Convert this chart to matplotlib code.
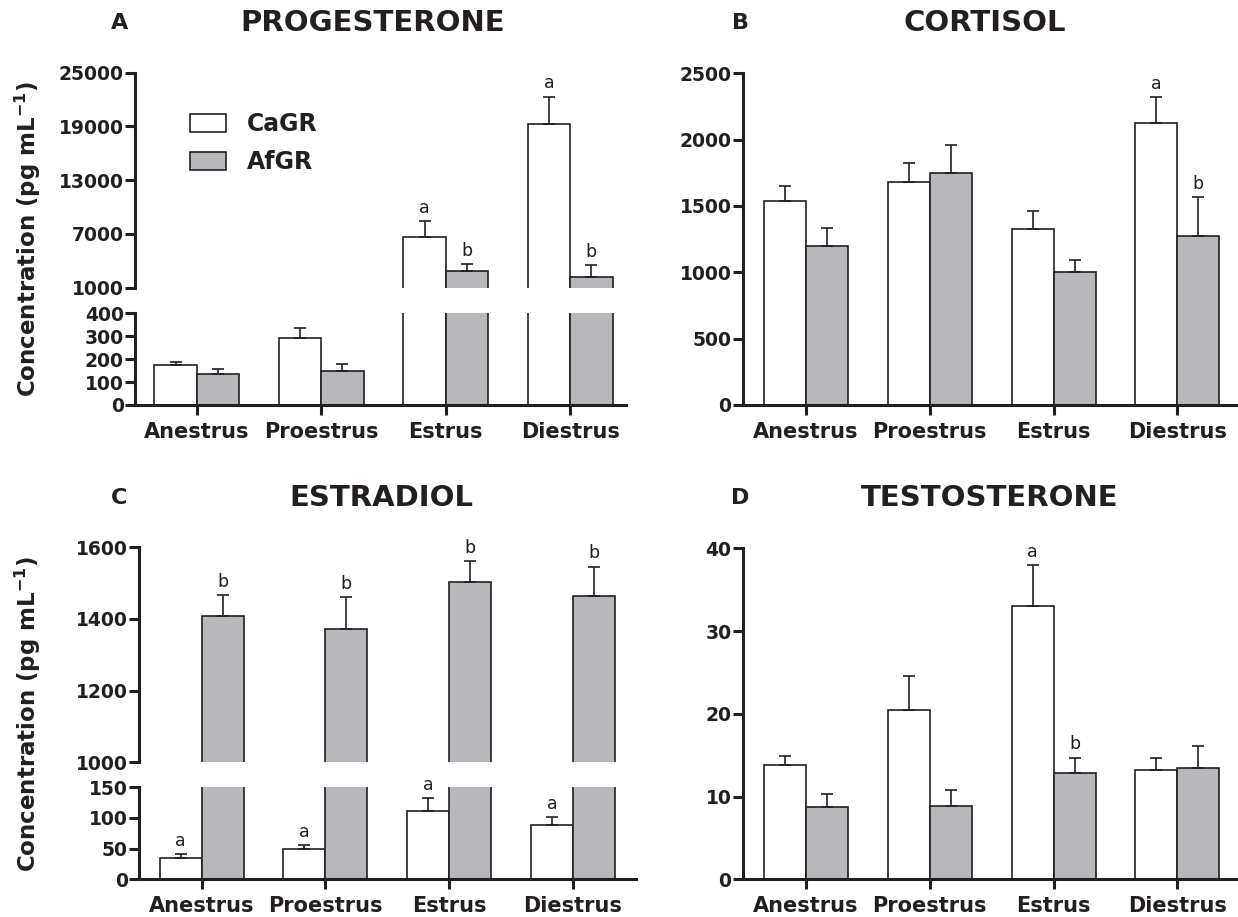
import matplotlib

matplotlib.use("Agg")
import matplotlib.pyplot as plt
import numpy as np

# --- Data -------------------------------------------------------------------
phases = ["Anestrus", "Proestrus", "Estrus", "Diestrus"]
groups = ["CaGR", "AfGR"]

prog_ca = [173, 291, 6660, 19260]
prog_ca_err = [16, 46, 1760, 3080]
prog_af = [135, 150, 2875, 2200]
prog_af_err = [22, 27, 750, 1310]

cort_ca = [1537, 1680, 1330, 2125]
cort_ca_err = [113, 145, 135, 193]
cort_af = [1200, 1745, 1000, 1270]
cort_af_err = [135, 215, 90, 295]

estr_ca = [35, 50, 111, 88]
estr_ca_err = [6, 6, 21, 13]
estr_af = [1407, 1373, 1504, 1464]
estr_af_err = [60, 88, 58, 82]

test_ca = [13.8, 20.4, 33.0, 13.2]
test_ca_err = [1.1, 4.2, 5.0, 1.4]
test_af = [8.7, 8.9, 12.8, 13.4]
test_af_err = [1.6, 1.9, 1.9, 2.7]

# significance letters: (phase index, group index, letter)
prog_letters = [(2, 0, "a"), (2, 1, "b"), (3, 0, "a"), (3, 1, "b")]
cort_letters = [(3, 0, "a"), (3, 1, "b")]
estr_letters = [(i, 0, "a") for i in range(4)] + [(i, 1, "b") for i in range(4)]
test_letters = [(2, 0, "a"), (2, 1, "b")]

# --- Style -------------------------------------------------------------------
INK = "#231f20"
GREY = "#b7b7bc"
BAR_W = 0.34
plt.rcParams["font.family"] = ["DejaVu Sans"]
plt.rcParams["mathtext.default"] = "bf"
plt.rcParams["text.color"] = INK

W, H = 1238, 917
fig = plt.figure(figsize=(W / 100, H / 100), dpi=100)


def px_axes(left, right, top, bottom):
    return fig.add_axes([left / W, 1 - bottom / H, (right - left) / W, (bottom - top) / H])


def style_axis(ax, xlim, ylim, yticks, show_x):
    ax.set_xlim(*xlim)
    ax.set_ylim(*ylim)
    ax.set_yticks(yticks)
    ax.set_yticklabels([f"{t:g}" for t in yticks], fontsize=13.5, fontweight="bold")
    for s in ("top", "right"):
        ax.spines[s].set_visible(False)
    for s in ("left", "bottom"):
        ax.spines[s].set_linewidth(2.2)
        ax.spines[s].set_color(INK)
    ax.tick_params(axis="y", length=7, width=2.2, pad=1, colors=INK)
    if show_x:
        ax.set_xticks(range(len(phases)))
        ax.set_xticklabels(phases, fontsize=15, fontweight="bold")
        ax.tick_params(axis="x", length=7, width=2.2, pad=5, colors=INK)
    else:
        ax.spines["bottom"].set_visible(False)
        ax.set_xticks([])


def draw_bars(ax, ca, ca_err, af, af_err):
    x = np.arange(len(phases))
    err_kw = {"ecolor": INK, "elinewidth": 1.2, "capthick": 1.2, "capsize": 4.5}
    b1 = ax.bar(x - BAR_W / 2, ca, BAR_W, color="white", edgecolor=INK, linewidth=1.2,
                yerr=[np.zeros(len(ca)), ca_err], error_kw=err_kw, label=groups[0])
    b2 = ax.bar(x + BAR_W / 2, af, BAR_W, color=GREY, edgecolor=INK, linewidth=1.2,
                yerr=[np.zeros(len(af)), af_err], error_kw=err_kw, label=groups[1])
    return b1, b2


def add_letters(ax, letters, ca, ca_err, af, af_err, only=None):
    for i, g, txt in letters:
        if only is not None and g != only:
            continue
        top = (ca[i] + ca_err[i]) if g == 0 else (af[i] + af_err[i])
        xpos = i - BAR_W / 2 if g == 0 else i + BAR_W / 2
        ax.annotate(txt, (xpos, top), xytext=(0, 3), textcoords="offset points",
                    ha="center", va="bottom", fontsize=12.5)


# --- Panel A: progesterone (broken axis) --------------------------------------
xlim_a = (-0.496, 3.448)
a_up = px_axes(135, 626, 72.7, 287.7)
a_lo = px_axes(135, 626, 313.3, 405)
draw_bars(a_lo, prog_ca, prog_ca_err, prog_af, prog_af_err)
b1, b2 = draw_bars(a_up, prog_ca, prog_ca_err, prog_af, prog_af_err)
style_axis(a_up, xlim_a, (1000, 25000), [1000, 7000, 13000, 19000, 25000], False)
style_axis(a_lo, xlim_a, (0, 400), [0, 100, 200, 300, 400], True)
add_letters(a_up, prog_letters, prog_ca, prog_ca_err, prog_af, prog_af_err)
leg = a_up.legend(handles=[b1, b2], loc="center left", bbox_to_anchor=(0.113, 0.672),
                  frameon=False, prop={"size": 17, "weight": "bold"},
                  handlelength=1.5, handleheight=0.8, handletextpad=0.9,
                  labelspacing=0.6, borderpad=0, borderaxespad=0)

# --- Panel B: cortisol ---------------------------------------------------------
xlim_b = (-0.512, 3.49)
b_ax = px_axes(742.7, 1238, 73.3, 405)
draw_bars(b_ax, cort_ca, cort_ca_err, cort_af, cort_af_err)
style_axis(b_ax, xlim_b, (0, 2500), [0, 500, 1000, 1500, 2000, 2500], True)
add_letters(b_ax, cort_letters, cort_ca, cort_ca_err, cort_af, cort_af_err)

# --- Panel C: estradiol (broken axis) -----------------------------------------
xlim_c = (-0.506, 3.51)
c_up = px_axes(139, 636, 547.3, 762.3)
c_lo = px_axes(139, 636, 787.3, 879.3)
draw_bars(c_up, estr_ca, estr_ca_err, estr_af, estr_af_err)
draw_bars(c_lo, estr_ca, estr_ca_err, estr_af, estr_af_err)
style_axis(c_up, xlim_c, (1000, 1600), [1000, 1200, 1400, 1600], False)
style_axis(c_lo, xlim_c, (0, 150), [0, 50, 100, 150], True)
add_letters(c_up, estr_letters, estr_ca, estr_ca_err, estr_af, estr_af_err, only=1)
add_letters(c_lo, estr_letters, estr_ca, estr_ca_err, estr_af, estr_af_err, only=0)

# --- Panel D: testosterone -----------------------------------------------------
d_ax = px_axes(742.7, 1238, 548.3, 879.3)
draw_bars(d_ax, test_ca, test_ca_err, test_af, test_af_err)
style_axis(d_ax, xlim_b, (0, 40), [0, 10, 20, 30, 40], True)
add_letters(d_ax, test_letters, test_ca, test_ca_err, test_af, test_af_err)

# --- Titles, panel letters, y labels ---------------------------------------------
heads = [("A", 120, 23, "PROGESTERONE", 373), ("B", 740, 23, "CORTISOL", 985),
         ("C", 119, 498, "ESTRADIOL", 381), ("D", 740, 498, "TESTOSTERONE", 990)]
for letter, lx, ly, title, tx in heads:
    fig.text(lx / W, 1 - ly / H, letter, fontsize=16, fontweight="bold",
             ha="center", va="center")
    fig.text(tx / W, 1 - ly / H, title, fontsize=21, fontweight="bold",
             ha="center", va="center")

ylab = "Concentration (pg mL$^{-1}$)"
fig.text(28 / W, 1 - 239 / H, ylab, rotation=90, fontsize=16.5, fontweight="bold",
         ha="center", va="center")
fig.text(28 / W, 1 - 714 / H, ylab, rotation=90, fontsize=16.5, fontweight="bold",
         ha="center", va="center")

fig.savefig("out.png", dpi=100, facecolor="white")
